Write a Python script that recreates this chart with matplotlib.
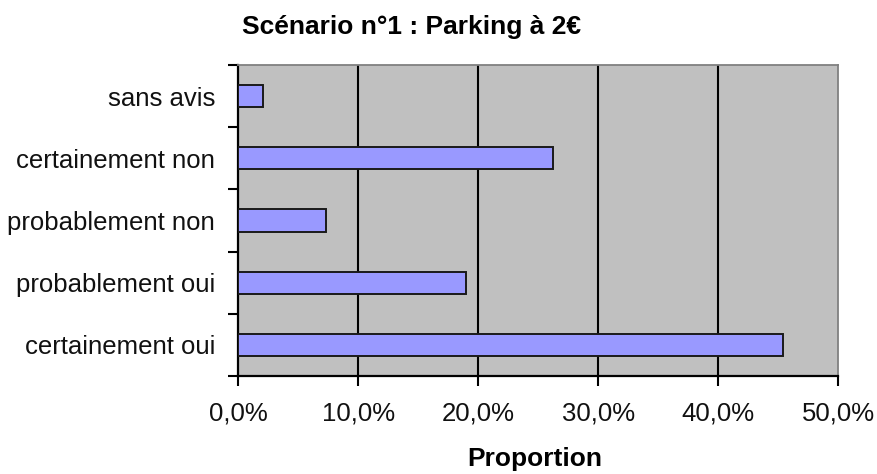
import matplotlib
matplotlib.use("Agg")
import matplotlib.pyplot as plt

plt.rcParams['font.family'] = ['Liberation Sans', 'DejaVu Sans']

# Data (top to bottom as displayed)
categories = ["sans avis", "certainement non", "probablement non",
              "probablement oui", "certainement oui"]
values = [2.1, 26.2, 7.3, 19.0, 45.4]  # percent
xticks = [0, 10, 20, 30, 40, 50]
xticklabels = ["0,0%", "10,0%", "20,0%", "30,0%", "40,0%", "50,0%"]
title = "Scénario n°1 : Parking à 2€"
xlabel = "Proportion"

W, H = 878, 474
fig = plt.figure(figsize=(W / 100, H / 100), dpi=100)
fig.patch.set_facecolor("white")

left, right, top, bottom = 238, 838.5, 65, 376
ax = fig.add_axes([left / W, 1 - bottom / H, (right - left) / W, (bottom - top) / H])
ax.set_facecolor("#C0C0C0")

ypos = list(range(len(categories)))
ax.barh(ypos, values, height=0.36, color="#9999FF", edgecolor="#1a1a1a",
        linewidth=1.4, zorder=3)

ax.set_xlim(0, 50)
ax.set_ylim(len(categories) - 0.5, -0.5)

ax.set_xticks(xticks)
ax.set_xticklabels(xticklabels)
ax.set_yticks(ypos)
ax.set_yticklabels(categories)
ax.set_yticks([i - 0.5 for i in range(len(categories) + 1)], minor=True)
ax.tick_params(axis="y", which="major", length=0, pad=16.5, labelsize=18.5,
               labelcolor="#111111")
ax.tick_params(axis="y", which="minor", length=7, width=1.5, color="black",
               direction="out")
ax.tick_params(axis="x", which="major", length=7, width=1.5, color="black",
               direction="out", pad=11, labelsize=18.5, labelcolor="#111111")

for x in xticks[1:-1]:
    ax.axvline(x, color="black", linewidth=1.5, zorder=1)

for s in ["left", "bottom"]:
    ax.spines[s].set_color("black")
    ax.spines[s].set_linewidth(1.6)
for s in ["top", "right"]:
    ax.spines[s].set_color("#808080")
    ax.spines[s].set_linewidth(1.3)

fig.text(411.5 / W, 1 - 27 / H, title, ha="center", va="center",
         fontsize=19, fontweight="bold", color="black")
fig.text(535 / W, 1 - 459 / H, xlabel, ha="center", va="center",
         fontsize=19, fontweight="bold", color="black")

fig.savefig("out.png", dpi=100, facecolor="white")
